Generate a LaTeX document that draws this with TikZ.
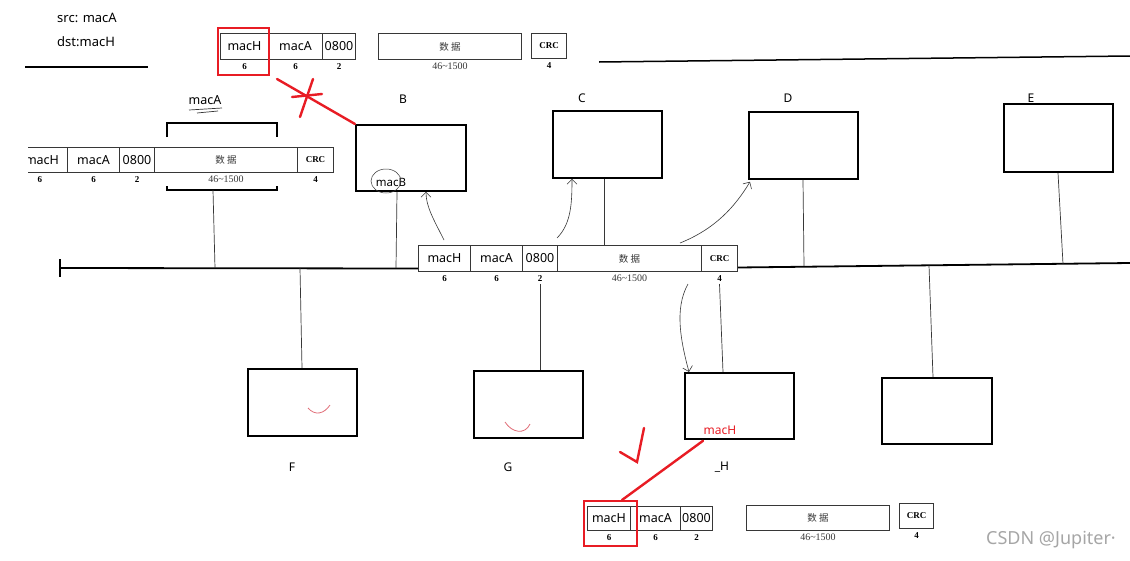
\documentclass[tikz,border=0pt]{standalone}
\usepackage{fontspec}
\setmainfont{Noto Sans}
\newfontfamily\cjkf{Noto Sans CJK SC}
\newfontfamily\numf{Liberation Serif}
\usetikzlibrary{arrows.meta}
\definecolor{redmark}{RGB}{232,28,36}
\definecolor{inkgray}{RGB}{55,55,55}
\definecolor{pinkmark}{RGB}{225,110,120}
\tikzset{
  cell/.style={draw=inkgray, line width=1pt, anchor=north west, inner sep=0pt,
    minimum height=26pt, font=\fontsize{12.5}{12.5}\selectfont},
  datacell/.style={cell, font=\cjkf\fontsize{9.5}{9.5}\selectfont, text=inkgray},
  crccell/.style={cell, font=\numf\bfseries\fontsize{9}{9}\selectfont},
  numlab/.style={anchor=north, inner sep=0pt, font=\numf\bfseries\fontsize{9}{9}\selectfont},
  sizelab/.style={anchor=north, inner sep=0pt, font=\numf\fontsize{10}{10}\selectfont, text=inkgray},
  hostbox/.style={draw=black, line width=1.8pt, anchor=north west, inner sep=0pt,
    minimum width=109pt, minimum height=67pt},
  lbl/.style={inner sep=0pt, font=\fontsize{12}{12}\selectfont},
  wire/.style={draw=inkgray, line width=0.7pt},
  bus/.style={draw=black, line width=1.8pt},
  pen/.style={draw=inkgray, line width=0.6pt, -{Straight Barb[length=5pt,width=10pt]}},
  redpen/.style={draw=redmark, line width=2.4pt, line cap=round},
  redbox/.style={draw=redmark, line width=2.4pt, anchor=north west, inner sep=0pt},
}
\begin{document}
\begin{tikzpicture}[x=1pt,y=-1pt]
\useasboundingbox[fill=white] (0,0) rectangle (1130,560);

% ---------- top-left text ----------
\node[lbl, anchor=west, font=\fontsize{13}{13}\selectfont] (src) at (57,18) {src: macA};
\node[lbl, anchor=west, font=\fontsize{13}{13}\selectfont] (dst) at (57,42) {dst:macH};
\draw[bus, line width=1.6pt] (25,67) -- (148,67);
\draw[draw=black, line width=1.5pt] (599,62) -- (1130,56);

% ---------- top frame ----------
\node[cell, minimum width=48pt] (th) at (220,33) {macH};
\node[cell, minimum width=54pt] (ta) at (268,33) {macA};
\node[cell, minimum width=33pt] (tt) at (322,33) {0800};
\node[datacell, minimum width=143pt] (td) at (378,33) {数\ 据};
\node[crccell, minimum width=35pt, minimum height=25pt] (tc) at (531,33) {CRC};
\node[numlab] at ([yshift=-3pt]th.south) {6};
\node[numlab] at ([yshift=-3pt]ta.south) {6};
\node[numlab] at ([yshift=-3pt]tt.south) {2};
\node[sizelab] at ([yshift=-3pt]td.south) {46\textasciitilde1500};
\node[numlab] at ([yshift=-3pt]tc.south) {4};
\node[redbox, minimum width=51pt, minimum height=47pt] (rtop) at (217,27) {};

% ---------- left frame ----------
\begin{scope}
\clip (28,140) rectangle (340,200);
\node[cell, minimum width=53pt, minimum height=25pt] (lh) at (14,147) {\hspace*{2pt}macH};
\end{scope}
\node[cell, minimum width=52pt, minimum height=25pt] (la) at (67,147) {macA};
\node[cell, minimum width=35pt, minimum height=25pt] (lt) at (119,147) {0800};
\node[datacell, minimum width=143pt, minimum height=25pt] (ld) at (154,147) {数\ 据};
\node[crccell, minimum width=36pt, minimum height=25pt] (lc) at (297,147) {CRC};
\node[numlab] at (40,176) {6};
\node[numlab] at ([yshift=-3pt]la.south) {6};
\node[numlab] at ([yshift=-3pt]lt.south) {2};
\node[sizelab] at ([yshift=-3pt]ld.south) {46\textasciitilde1500};
\node[numlab] at ([yshift=-3pt]lc.south) {4};
\draw[draw=black, line width=1.8pt] (167,137) -- (167,123) -- (277,123) -- (277,137);
\draw[draw=black, line width=1.8pt] (167,186) -- (167,190) -- (277,190) -- (277,186);
\coordinate (brk) at (213,190);
\node[lbl, font=\fontsize{12.5}{12.5}\selectfont] (lmacA) at (205,100) {macA};
\draw[draw=inkgray, line width=0.7pt] (189,110) -- (222,108);
\draw[draw=inkgray, line width=0.7pt] (197,113) -- (218,111);

% ---------- middle frame ----------
\node[cell, minimum width=52pt] (mh) at (418,245) {macH};
\node[cell, minimum width=52pt] (ma) at (470,245) {macA};
\node[cell, minimum width=35pt] (mt) at (522,245) {0800};
\node[datacell, minimum width=144pt] (md) at (557,245) {数\ 据};
\node[crccell, minimum width=36pt] (mc) at (701,245) {CRC};
\node[numlab] at ([yshift=-3pt]mh.south) {6};
\node[numlab] at ([yshift=-3pt]ma.south) {6};
\node[numlab] at ([yshift=-3pt]mt.south) {2};
\node[sizelab] at ([yshift=-3pt]md.south) {46\textasciitilde1500};
\node[numlab] at ([yshift=-3pt]mc.south) {4};

% ---------- bottom frame ----------
\node[cell, minimum width=43pt, minimum height=24pt] (bh) at (587,506) {macH};
\node[cell, minimum width=50pt, minimum height=24pt] (ba) at (630,506) {macA};
\node[cell, minimum width=32pt, minimum height=24pt] (bt) at (680,506) {0800};
\node[datacell, minimum width=143pt, minimum height=25pt] (bd) at (746,505) {数\ 据};
\node[crccell, minimum width=34pt, minimum height=25pt] (bc) at (899,503) {CRC};
\node[numlab] at ([yshift=-3pt]bh.south) {6};
\node[numlab] at ([yshift=-3pt]ba.south) {6};
\node[numlab] at ([yshift=-3pt]bt.south) {2};
\node[sizelab] at ([yshift=-3pt]bd.south) {46\textasciitilde1500};
\node[numlab] at ([yshift=-3pt]bc.south) {4};
\node[redbox, minimum width=53pt, minimum height=45pt] (rbot) at (583,500) {};

% ---------- hosts ----------
\node[hostbox, minimum width=110pt, minimum height=66pt] (B) at (355,124) {};
\node[hostbox] (C) at (552,110) {};
\node[hostbox] (D) at (748,111) {};
\node[hostbox, minimum height=68pt] (E) at (1003,103) {};
\node[hostbox] (F) at (247,368) {};
\node[hostbox] (G) at (473,370) {};
\node[hostbox, minimum height=66pt] (H) at (684,372) {};
\node[hostbox, minimum width=110pt, minimum height=66pt] (I) at (881,377) {};

\node[lbl] (lB) at (403,99) {B};
\node[lbl] (lC) at (582,98) {C};
\node[lbl] (lD) at (788,98) {D};
\node[lbl] (lE) at (1031,98) {E};
\node[lbl] (lF) at (292,467) {F};
\node[lbl] (lG) at (508,467) {G};
\node[lbl] (lH) at (722,467) {\_H};

\node[lbl, font=\fontsize{11.5}{11.5}\selectfont] (macB) at (391,182) {macB};
\draw[draw=inkgray, line width=0.5pt] (386,181) ellipse [x radius=15, y radius=12];

% ---------- bus ----------
\coordinate (busL) at (60,268);
\coordinate (busR) at (1130,263);
\coordinate (j1) at (215,268);
\coordinate (j2) at (300,268);
\coordinate (j3) at (396,268);
\coordinate (j4) at (804,266);
\coordinate (j5) at (929,265.3);
\coordinate (j6) at (1063,264);
\draw[bus] (60,259) -- (60,277);
\draw[bus] (busL) -- ([yshift=-10pt]mh.west);
\draw[bus] ([yshift=-9pt]mc.east) -- (busR);

% ---------- drops ----------
\draw[wire] (brk) -- (j1);
\draw[wire] ([xshift=42pt]B.south west) -- (j3);
\draw[wire] (j2) -- ([xshift=55pt]F.north west);
\draw[wire] ([xshift=52pt]C.south west) -- ([xshift=47pt]md.north west);
\draw[wire] ([xshift=55pt]D.south west) -- (j4);
\draw[wire] ([xshift=55pt]E.south west) -- (j6);
\draw[wire] (j5) -- ([xshift=52pt]I.north west);
\draw[wire] ([yshift=-12pt]mt.south) -- ([xshift=67pt]G.north west);
\draw[wire] ([yshift=-12pt]mc.south) -- ([xshift=39pt]H.north west);

% ---------- hand arrows ----------
\draw[pen] ([xshift=26pt,yshift=5pt]mh.north west) .. controls +(-10,-20) and +(0,15) .. ([xshift=71pt]B.south west);
\draw[pen] ([yshift=7pt]md.north west) .. controls +(14,-14) and +(0,25) .. ([xshift=20pt]C.south west);
\draw[pen] ([xshift=123pt,yshift=2pt]md.north west) .. controls +(35,-14) and +(-15,25) .. ([xshift=2pt,yshift=-2pt]D.south west);
\draw[pen] ([xshift=131pt,yshift=-12pt]md.south west) .. controls +(-14,25) and +(-8,-30) .. ([xshift=5pt]H.north west);

% ---------- red annotations ----------
\coordinate (rx0) at (277,79);
\draw[redpen] (rx0) -- (B.north west);
\draw[redpen] (313,79) -- (300,117);
\draw[redpen] (292,97) -- (322,94);
\node[lbl, text=redmark, font=\fontsize{12}{12}\selectfont] (rmacH) at (720,430) {macH};
\draw[redpen] ([xshift=19pt,yshift=-1pt]H.south west) -- ([xshift=39pt]rbot.north west);
\draw[redpen] (644,428) -- (637,462) -- (620,452);
\draw[draw=pinkmark, line width=0.8pt] (308,408) .. controls (315,416) and (324,414) .. (330,405);
\draw[draw=pinkmark, line width=0.8pt] (505,422) .. controls (512,433) and (525,435) .. (530,424);

% ---------- watermark ----------
\node[lbl, text=black!35, font=\fontsize{18}{18}\selectfont] (wm) at (1051,540) {CSDN @Jupiter·};
\end{tikzpicture}
\end{document}
